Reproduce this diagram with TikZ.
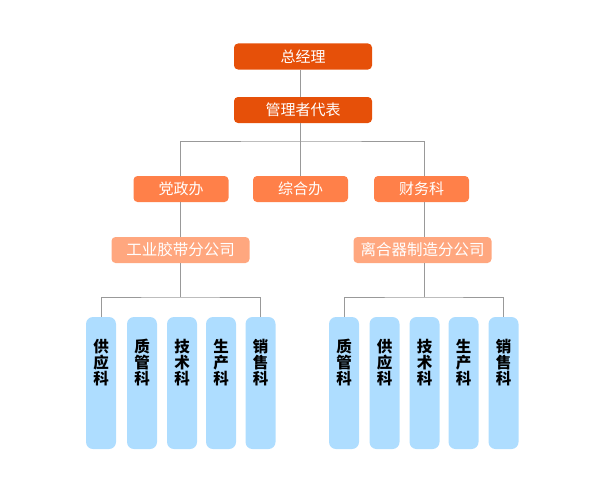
\documentclass[tikz,border=0pt]{standalone}
\usepackage{fontspec}
\setmainfont{Noto Sans CJK SC}
\usepackage{tikz}
\usetikzlibrary{positioning}
\definecolor{dark}{HTML}{E65009}
\definecolor{mid}{HTML}{FF8049}
\definecolor{light}{HTML}{FFA77F}
\definecolor{sky}{HTML}{AEDDFF}
\definecolor{wire}{HTML}{999999}
\tikzset{
  top/.style={fill=dark,text=white,rounded corners=4pt,minimum width=138pt,minimum height=26pt,inner sep=0pt,font=\fontsize{15}{15}\selectfont},
  dept/.style={fill=mid,text=white,rounded corners=4pt,minimum width=95pt,minimum height=26pt,inner sep=0pt,font=\fontsize{15}{15}\selectfont},
  firm/.style={fill=light,text=white,rounded corners=4pt,minimum width=138pt,minimum height=26pt,inner sep=0pt,font=\fontsize{15.5}{15.5}\selectfont},
  col/.style={fill=sky,rounded corners=7pt,minimum width=30pt,minimum height=132pt,inner sep=0pt},
  coltext/.style={font=\fontsize{15.5}{16}\selectfont\bfseries,align=center,text=black},
  wire/.style={draw=wire,line width=1pt}
}
\begin{document}
\begin{tikzpicture}[x=1pt,y=-1pt]
\useasboundingbox (0,0) rectangle (596,503);
  %----top----%
  \node[top] (zjl) at (303,56.5) {总经理};
  \node[top] (gldb) at (303,110) {管理者代表};
  %----depts----%
  \node[dept] (dzb) at (181,189) {党政办};
  \node[dept] (zhb) at (300.5,189) {综合办};
  \node[dept] (cwk) at (421.5,189) {财务科};
  %----firms----%
  \node[firm] (jdgs) at (180.5,250) {工业胶带分公司};
  \node[firm] (lhq) at (422.5,250) {离合器制造分公司};
  %----columns----%
  \foreach \x/\n/\t in {101/a1/供\\应\\科, 142/a2/质\\管\\科, 182/a3/技\\术\\科, 221/a4/生\\产\\科, 260.5/a5/销\\售\\科,
                        344/b1/质\\管\\科, 384.5/b2/供\\应\\科, 424.5/b3/技\\术\\科, 463.5/b4/生\\产\\科, 503.5/b5/销\\售\\科}{
    \node[col] (\n) at (\x,383) {};
    \node[coltext] at (\x,363) {\t};
  }
  \coordinate (bus1) at (300,141);
  \coordinate (bus2) at (180,297);
  \coordinate (bus3) at (424,297);
  %----wires----%
  \draw[wire] (zjl.south -| bus1) -- (gldb.north -| bus1);
  \draw[wire] (gldb.south -| bus1) -- (zhb.north -| bus1);
  \draw[wire] (dzb.north -| bus2) |- (bus1) -| (cwk.north -| bus3);
  \draw[wire] (dzb.south -| bus2) -- (jdgs.north -| bus2);
  \draw[wire] (cwk.south -| bus3) -- (lhq.north -| bus3);
  \draw[wire] (jdgs.south -| bus2) -- (bus2);
  \draw[wire] (lhq.south -| bus3) -- (bus3);
  \draw[wire] (a1) |- (bus2) -| (a5);
  \draw[wire] (b1) |- (bus3) -| (b5);
\end{tikzpicture}
\end{document}
